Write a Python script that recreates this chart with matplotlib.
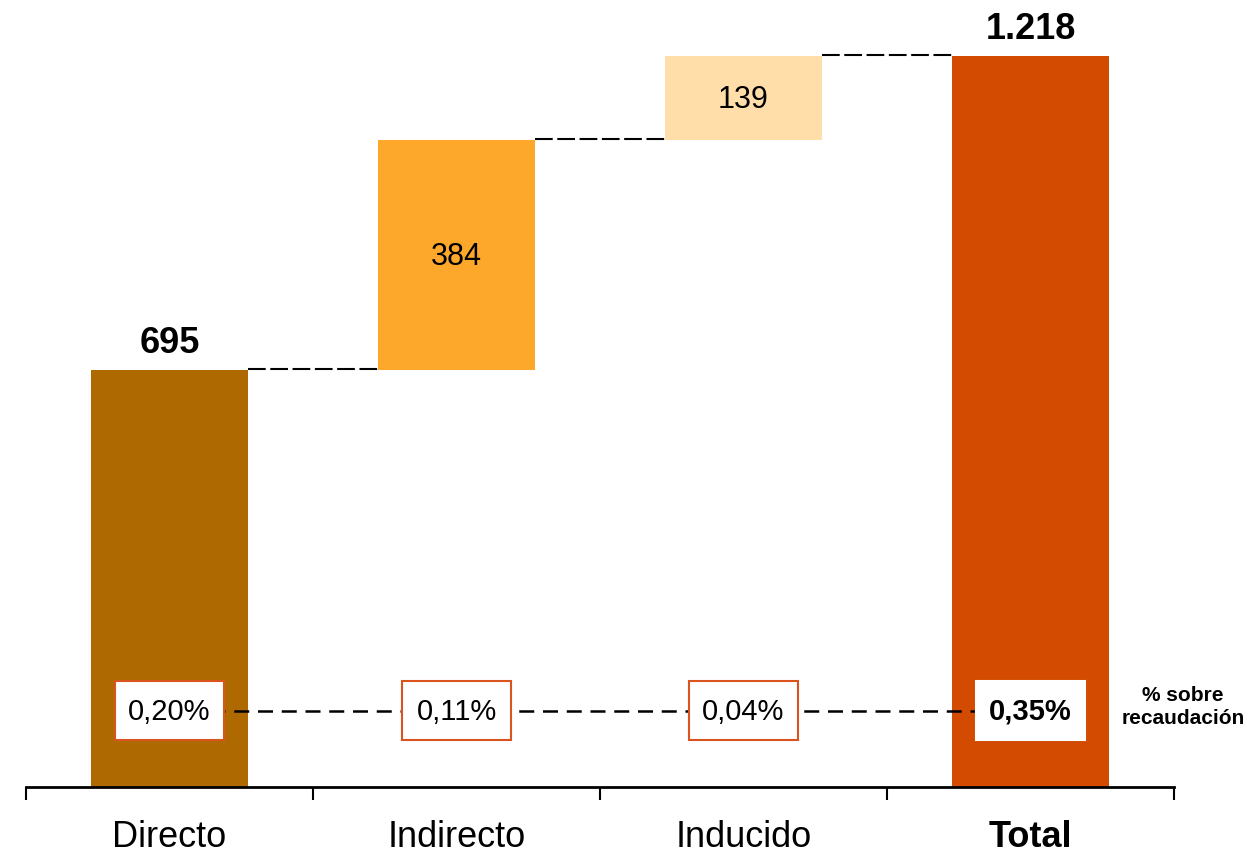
import matplotlib
matplotlib.use("Agg")
import matplotlib.pyplot as plt
from matplotlib.patches import Rectangle

plt.rcParams['font.family'] = ['Liberation Sans', 'DejaVu Sans']

categories = ["Directo", "Indirecto", "Inducido", "Total"]
increments = [695, 384, 139]
total = 1218
pct = [0.20, 0.11, 0.04, 0.35]
colors = ["#AE6A00", "#FDA82B", "#FFDEAA", "#D24B00"]

fig = plt.figure(figsize=(12.55, 8.58), dpi=100)
ax = fig.add_axes([26/1255, 71/858, 1148/1255, 787/858])
ax.set_xlim(-0.5, 3.5)
ax.set_ylim(0, 787/0.6)

w = 0.55
bottoms = []
cum = 0
for v in increments:
    bottoms.append(cum)
    cum += v
heights = increments + [total]
bottoms = bottoms + [0]
x = list(range(len(categories)))
ax.bar(x, heights, bottom=bottoms, width=w, color=colors, zorder=2)

# connectors
tops = [b + h for b, h in zip(bottoms, heights)]
for i in range(len(categories) - 1):
    ax.plot([x[i] + w/2, x[i+1] - w/2], [tops[i] + 1.5, tops[i] + 1.5], color='black',
            lw=1.5, dashes=(8.5, 2.2), zorder=1)

# value labels
ax.text(x[0], tops[0] + 44, f"{increments[0]}", ha='center', va='center',
        fontsize=26, fontweight='bold')
ax.text(x[3], tops[3] + 44, f"{total:,}".replace(",", "."), ha='center', va='center',
        fontsize=26, fontweight='bold')
for i in (1, 2):
    ax.text(x[i], bottoms[i] + heights[i]/2 - 3, f"{heights[i]}", ha='center',
            va='center', fontsize=22)

# percentage row
py = 127
bw, bh = 0.383, 98
ax.plot([x[0] - bw/2, x[3] + bw/2], [py, py], color='black', lw=1.8,
        dashes=(6, 3.5), zorder=3)
for i, p in enumerate(pct):
    last = i == len(pct) - 1
    ax.add_patch(Rectangle((x[i] - bw/2, py - bh/2), bw, bh, facecolor='white',
                           edgecolor='white' if last else '#D9541E', lw=1.5, zorder=4))
    ax.text(x[i], py - 2, f"{p:.2f}".replace(".", ",") + "%", ha='center', va='center',
            fontsize=21, fontweight='bold' if last else 'normal', zorder=5)

ax.text(3.531, 133, "% sobre\nrecaudación", ha='center', va='center',
        fontsize=15, fontweight='bold', linespacing=1.25, clip_on=False)

# axes styling
for s in ('left', 'top', 'right'):
    ax.spines[s].set_visible(False)
ax.spines['bottom'].set_linewidth(2)
ax.set_yticks([])
ax.set_xticks([-0.5, 0.5, 1.5, 2.5, 3.5])
ax.set_xticklabels([])
ax.tick_params(axis='x', direction='out', length=9, width=1.5)
for i, c in enumerate(categories):
    ax.text(x[i], -84, c, ha='center', va='center', fontsize=26,
            fontweight='bold' if c == "Total" else 'normal', clip_on=False)

fig.savefig("out.png", dpi=100)
